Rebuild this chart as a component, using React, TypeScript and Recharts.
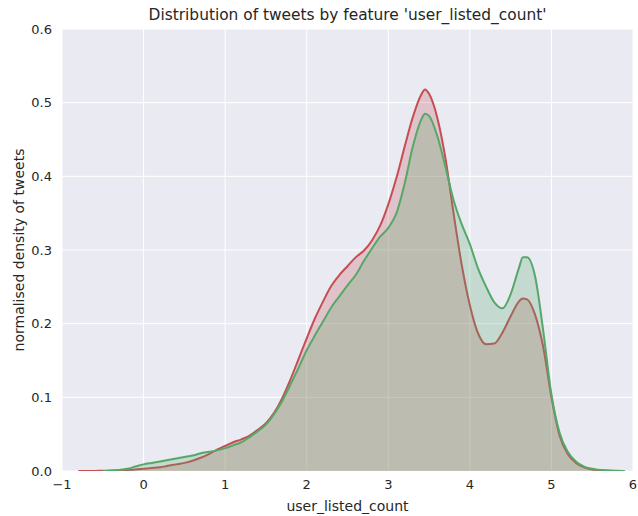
import { AreaChart, Area, XAxis, YAxis, CartesianGrid, Label } from 'recharts';

// x positions of the kde curves
const xs = [
    -0.8, -0.7, -0.6, -0.5, -0.4, -0.3, -0.2, -0.1, 0.0, 0.1, 0.2, 0.3, 0.4, 0.5, 0.6, 0.7, 0.8, 0.9,
    1.0, 1.1, 1.2, 1.3, 1.4, 1.5, 1.6, 1.7, 1.8, 1.9, 2.0, 2.1, 2.2, 2.3, 2.4, 2.5, 2.6, 2.7, 2.8, 2.9,
    3.0, 3.1, 3.2, 3.3, 3.4, 3.45, 3.5, 3.6, 3.7, 3.8, 3.9, 4.0, 4.1, 4.2, 4.3, 4.4, 4.5, 4.6, 4.65, 4.7,
    4.8, 4.9, 5.0, 5.1, 5.2, 5.3, 5.4, 5.5, 5.6, 5.7, 5.8, 5.9,
];

const redDensity = [
    0, 0, 0, 0.0003, 0.0006, 0.001, 0.0015, 0.002, 0.003, 0.004, 0.005, 0.007, 0.009, 0.011, 0.014, 0.018, 0.023, 0.029,
    0.034, 0.039, 0.043, 0.048, 0.056, 0.065, 0.079, 0.099, 0.124, 0.152, 0.18, 0.207, 0.23, 0.251, 0.266, 0.278, 0.29, 0.299, 0.313, 0.333,
    0.362, 0.398, 0.44, 0.48, 0.51, 0.518, 0.512, 0.48, 0.425, 0.35, 0.28, 0.225, 0.187, 0.172, 0.173, 0.188, 0.21, 0.23, 0.234, 0.233,
    0.212, 0.168, 0.1, 0.048, 0.023, 0.011, 0.005, 0.002, 0.001, 0.0004, 0.0001, null,
];

const greenDensity = [
    null, null, null, 0, 0.0005, 0.0015, 0.003, 0.006, 0.009, 0.011, 0.013, 0.015, 0.017, 0.019, 0.021, 0.024, 0.026, 0.028,
    0.031, 0.035, 0.039, 0.046, 0.054, 0.063, 0.077, 0.095, 0.117, 0.14, 0.164, 0.184, 0.203, 0.222, 0.237, 0.252, 0.266, 0.285, 0.302, 0.318,
    0.33, 0.35, 0.39, 0.44, 0.476, 0.485, 0.482, 0.455, 0.413, 0.368, 0.335, 0.308, 0.275, 0.25, 0.229, 0.221, 0.24, 0.275, 0.29, 0.29,
    0.264, 0.19, 0.104, 0.052, 0.026, 0.013, 0.006, 0.003, 0.0013, 0.0006, 0.0003, 0,
];

const xTicks = [-1, 0, 1, 2, 3, 4, 5, 6];
const yTicks = [0, 0.1, 0.2, 0.3, 0.4, 0.5, 0.6];

const data = xs.map((x, i) => ({ x, red: redDensity[i], green: greenDensity[i] }));

const RED = '#C44E52';
const GREEN = '#55A868';
const FONT = '"DejaVu Sans", sans-serif';
const TEXT = '#262626';

const formatX = (v: number) => (v < 0 ? `\u2212${Math.abs(v)}` : `${v}`);

export default function App() {
    return (
        <div style={{ position: 'absolute', left: 0, top: 0, width: 638, height: 516, background: '#fff', fontFamily: FONT }}>
            <div
                style={{
                    position: 'absolute',
                    top: 6,
                    left: 62,
                    width: 571,
                    textAlign: 'center',
                    fontSize: 15.4,
                    lineHeight: '18px',
                    color: TEXT,
                }}
            >
                Distribution of tweets by feature 'user_listed_count'
            </div>
            <AreaChart
                width={638}
                height={516}
                data={data}
                margin={{ top: 29, right: 5, bottom: 0, left: 0 }}
            >
                <CartesianGrid fill="#EAEAF2" stroke="#ffffff" strokeWidth={1} />
                <XAxis
                    dataKey="x"
                    type="number"
                    domain={[-1, 6]}
                    ticks={xTicks}
                    tickFormatter={formatX}
                    axisLine={false}
                    tickLine={false}
                    tickMargin={3}
                    height={45}
                    tick={{ fill: TEXT, fontSize: 13, fontFamily: FONT }}
                    allowDataOverflow
                >
                    <Label
                        value="user_listed_count"
                        position="insideBottom"
                        offset={5}
                        style={{ fill: TEXT, fontSize: 14, fontFamily: FONT }}
                    />
                </XAxis>
                <YAxis
                    type="number"
                    domain={[0, 0.6]}
                    ticks={yTicks}
                    tickFormatter={(v: number) => v.toFixed(1)}
                    axisLine={false}
                    tickLine={false}
                    tickMargin={4}
                    width={62}
                    tick={{ fill: TEXT, fontSize: 13, fontFamily: FONT }}
                    allowDataOverflow
                >
                    <Label
                        content={() => (
                            <text
                                transform="translate(19,250) rotate(-90)"
                                textAnchor="middle"
                                dominantBaseline="central"
                                style={{ fill: TEXT, fontSize: 14, fontFamily: FONT }}
                            >
                                normalised density of tweets
                            </text>
                        )}
                    />
                </YAxis>
                <Area
                    type="monotone"
                    dataKey="red"
                    stroke={RED}
                    strokeWidth={2}
                    fill={RED}
                    fillOpacity={0.25}
                    isAnimationActive={false}
                    dot={false}
                    activeDot={false}
                />
                <Area
                    type="monotone"
                    dataKey="green"
                    stroke={GREEN}
                    strokeWidth={2}
                    fill={GREEN}
                    fillOpacity={0.25}
                    isAnimationActive={false}
                    dot={false}
                    activeDot={false}
                />
            </AreaChart>
        </div>
    );
}
